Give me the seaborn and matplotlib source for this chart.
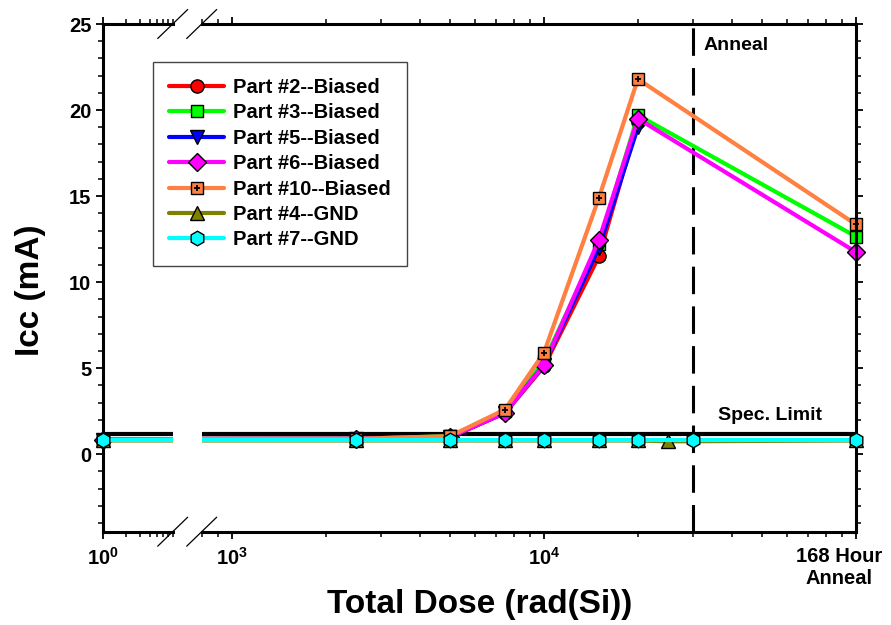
import matplotlib
matplotlib.use('Agg')
import matplotlib.pyplot as plt
from matplotlib.lines import Line2D
from matplotlib.transforms import ScaledTranslation
from matplotlib.ticker import FixedLocator, FixedFormatter, LogLocator, NullFormatter, MultipleLocator
import seaborn as sns
import pandas as pd

# --- data ---
dose_biased = [1, 2500, 5000, 7500, 10000, 15000, 20000]
dose_biased_anneal = [1, 2500, 5000, 7500, 10000, 15000, 20000, 100000]
icc_part2 = [0.85, 0.9, 1.0, 2.4, 5.1, 11.5, 19.3]
icc_part3 = [0.85, 0.9, 1.05, 2.5, 5.4, 12.2, 19.7, 12.65]
icc_part5 = [0.85, 0.9, 1.0, 2.4, 5.2, 12.0, 19.0]
icc_part6 = [0.85, 0.9, 1.0, 2.4, 5.2, 12.45, 19.5, 11.75]
icc_part10 = [0.85, 0.9, 1.05, 2.6, 5.9, 14.9, 21.8, 13.35]
dose_part4 = [1, 2500, 5000, 7500, 10000, 15000, 20000, 25000, 100000]
icc_part4 = [0.8, 0.8, 0.8, 0.8, 0.8, 0.8, 0.8, 0.75, 0.8]
dose_part7 = [1, 2500, 5000, 7500, 10000, 15000, 20000, 30000, 100000]
icc_part7 = [0.82, 0.82, 0.82, 0.82, 0.82, 0.82, 0.82, 0.82, 0.82]
spec_limit = 1.2
anneal_start = 30000
anneal_dose = 100000

series = [
    ('Part #2--Biased', dose_biased, icc_part2, '#FF0000', 'o'),
    ('Part #3--Biased', dose_biased_anneal, icc_part3, '#00FF00', 's'),
    ('Part #5--Biased', dose_biased, icc_part5, '#0000FF', 'v'),
    ('Part #6--Biased', dose_biased_anneal, icc_part6, '#FF00FF', 'D'),
    ('Part #10--Biased', dose_biased_anneal, icc_part10, '#FF8040', 's'),
    ('Part #4--GND', dose_part4, icc_part4, '#808000', '^'),
    ('Part #7--GND', dose_part7, icc_part7, '#00FFFF', 'h'),
]
msizes = {'o': 9.5, 's': 9, 'v': 9.5, 'D': 9, '^': 9.5, 'h': 10.5}

sns.set_theme(style="ticks")
plt.rcParams['font.family'] = ['Liberation Sans', 'DejaVu Sans']
plt.rcParams['font.weight'] = 'bold'
plt.rcParams['text.color'] = 'black'
plt.rcParams['axes.labelcolor'] = 'black'
plt.rcParams['xtick.color'] = 'black'
plt.rcParams['ytick.color'] = 'black'
plt.rcParams['mathtext.fontset'] = 'custom'
plt.rcParams['mathtext.rm'] = 'Liberation Sans:bold'
plt.rcParams['mathtext.bf'] = 'Liberation Sans:bold'
plt.rcParams['mathtext.default'] = 'rm'

W, H = 891, 625
fig = plt.figure(figsize=(W / 100, H / 100), dpi=100)
bottom = (H - 531.7) / H
height = (531.7 - 24) / H
ax_l = fig.add_axes([103.3 / W, bottom, (172.7 - 103.3) / W, height])
ax_r = fig.add_axes([201.7 / W, bottom, (856 - 201.7) / W, height], sharey=ax_l)

for ax, lo, hi in ((ax_l, 1, 8), (ax_r, 800, 100000)):
    ax.set_xscale('log')
    ax.set_ylim(-4.5, 25)
    ax.axhline(spec_limit, color='black', lw=3, zorder=1.5)
    # each series: line then its markers, so later series sit on top of earlier ones
    for i, (label, x, y, color, mk) in enumerate(series):
        z = 2 + i * 0.1
        df = pd.DataFrame({'dose': x, 'icc': y})
        sns.lineplot(data=df, x='dose', y='icc', ax=ax, color=color, lw=3,
                     sort=True, estimator=None, zorder=z)
        pts = df[(df['dose'] >= lo) & (df['dose'] <= hi)]
        for d, v in zip(pts['dose'], pts['icc']):
            ax.plot(d, v, marker=mk, ms=msizes[mk], mfc=color, mec='black', mew=1.0,
                    ls='none', clip_on=False, zorder=z + 0.05)
            if label == 'Part #10--Biased':
                ax.plot(d, v, marker='+', ms=5, mec='black', mew=1.3,
                        ls='none', clip_on=False, zorder=z + 0.06)
    for sp in ax.spines.values():
        sp.set_linewidth(2.2)
        sp.set_color('black')
    ax.tick_params(which='major', direction='out', length=5, width=1.3, colors='black',
                   labelsize=14.5, top=True)
    ax.tick_params(which='minor', direction='out', length=3.5, width=1.1, colors='black', top=True)
    ax.set_xlabel('')
    ax.set_ylabel('')
    ax.yaxis.set_major_locator(MultipleLocator(5))
    ax.yaxis.set_minor_locator(MultipleLocator(1))
    ax.set_xlim(lo, hi)

# left piece
ax_l.spines['right'].set_visible(False)
ax_l.tick_params(axis='y', which='both', right=False)
ax_l.xaxis.set_major_locator(FixedLocator([1]))
ax_l.xaxis.set_major_formatter(FixedFormatter(['10$^{0}$']))
ax_l.xaxis.set_minor_locator(LogLocator(base=10, subs=range(2, 10)))
ax_l.xaxis.set_minor_formatter(NullFormatter())

# right piece
ax_r.spines['left'].set_visible(False)
ax_r.tick_params(axis='y', which='both', left=False, right=True, labelleft=False)
ax_r.xaxis.set_major_locator(FixedLocator([1000, 10000, anneal_dose]))
ax_r.xaxis.set_major_formatter(FixedFormatter(['10$^{3}$', '10$^{4}$', '168 Hour\nAnneal']))
ax_r.xaxis.set_minor_locator(LogLocator(base=10, subs=range(2, 10)))
ax_r.xaxis.set_minor_formatter(NullFormatter())
ax_l.tick_params(axis='x', pad=6)
ax_r.tick_params(axis='x', pad=6)
fig.canvas.draw()
for t in ax_l.get_xticklabels() + ax_r.get_xticklabels() + ax_l.get_yticklabels():
    t.set_fontweight('bold')
anneal_lbl = ax_r.get_xticklabels()[-1]
anneal_lbl.set_transform(anneal_lbl.get_transform() + ScaledTranslation(-0.17, 0, fig.dpi_scale_trans))

ax_r.axvline(anneal_start, color='black', lw=2.2, ls=(0, (9, 4)), zorder=1.8)
ax_r.text(32500, 23.75, 'Anneal', fontsize=14, fontweight='bold', va='center', ha='left')
ax_r.text(36000, 2.25, 'Spec. Limit', fontsize=14, fontweight='bold', va='center', ha='left')

# break marks
for xp in (172.7, 201.7):
    for yp in (24, 531.7):
        fig.add_artist(Line2D([(xp - 15) / W, (xp + 15) / W],
                              [(H - yp - 14.5) / H, (H - yp + 14.5) / H],
                              color='black', lw=0.9))

fig.text(31 / W, 1 - 290 / H, 'Icc (mA)', rotation=90, fontsize=24, fontweight='bold',
         ha='center', va='center')
fig.text(480 / W, 1 - 605 / H, 'Total Dose (rad(Si))', fontsize=24, fontweight='bold',
         ha='center', va='center')

handles = []
for label, x, y, color, mk in series:
    h = Line2D([], [], color=color, lw=3, marker=mk, ms=msizes[mk], mfc=color,
               mec='black', mew=1.0)
    if label == 'Part #10--Biased':
        h = (h, Line2D([], [], ls='none', marker='+', ms=5, mec='black', mew=1.3))
    handles.append(h)
leg = fig.legend(handles, [s[0] for s in series], loc='upper left',
                 bbox_to_anchor=(153.3 / W, 1 - 61.7 / H), borderaxespad=0,
                 handlelength=2.7, handletextpad=0.45, labelspacing=0.32,
                 borderpad=0.8, fancybox=False, framealpha=1, edgecolor='#444444',
                 prop={'weight': 'bold', 'size': 14.5})
leg.get_frame().set_linewidth(1.0)

fig.savefig('out.png', dpi=100)
